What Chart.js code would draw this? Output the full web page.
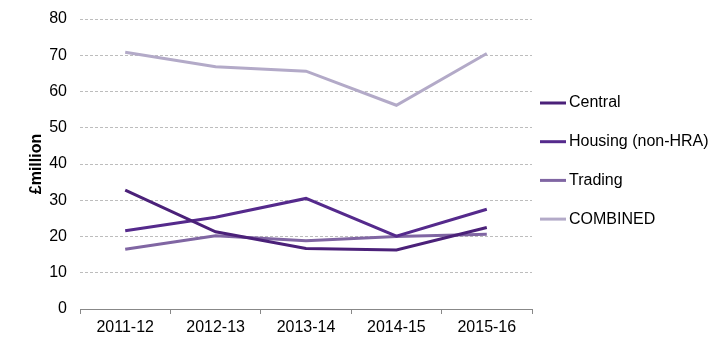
<!DOCTYPE html>
<html>
<head>
<meta charset="utf-8">
<script src="https://cdn.jsdelivr.net/npm/chart.js@4/dist/chart.umd.min.js"></script>
<style>
  html, body { margin: 0; padding: 0; background: #fff; }
  #wrap { width: 722px; height: 354px; }
</style>
</head>
<body>
<div id="wrap"><canvas id="chart"></canvas></div>
<script>
const years = ['2011-12', '2012-13', '2013-14', '2014-15', '2015-16'];
const central = [32.8, 21.3, 16.7, 16.3, 22.5];
const housing = [21.6, 25.3, 30.5, 20.1, 27.5];
const trading = [16.5, 20.2, 18.8, 20.0, 20.6];
const combined = [70.8, 66.8, 65.6, 56.2, 70.5];

const FONT = 'Liberation Sans, Arial, sans-serif';

// legend drawn by hand so it sits like the original
const sideLegend = {
  id: 'sideLegend',
  afterDraw(chart) {
    const ctx = chart.ctx;
    const area = chart.chartArea;
    ctx.save();
    ctx.font = '16px ' + FONT;
    ctx.textBaseline = 'middle';
    chart.data.datasets.forEach((ds, i) => {
      const y = area.top + 84 + i * 38.7;
      ctx.strokeStyle = ds.borderColor;
      ctx.lineWidth = 3;
      ctx.beginPath();
      ctx.moveTo(area.right + 8, y);
      ctx.lineTo(area.right + 34, y);
      ctx.stroke();
      ctx.fillStyle = '#000';
      ctx.fillText(ds.label, area.right + 37, y);
    });
    ctx.restore();
  }
};

new Chart(document.getElementById('chart'), {
  type: 'line',
  data: {
    labels: years,
    datasets: [
      { label: 'Central', data: central, borderColor: '#4b2179' },
      { label: 'Housing (non-HRA)', data: housing, borderColor: '#552a8c' },
      { label: 'Trading', data: trading, borderColor: '#8066a3' },
      { label: 'COMBINED', data: combined, borderColor: '#b3aac8' }
    ].map(d => Object.assign(d, { borderWidth: 3, pointRadius: 0, tension: 0, fill: false }))
  },
  options: {
    responsive: true,
    maintainAspectRatio: false,
    animation: false,
    layout: { padding: { top: 19, right: 190, bottom: 17, left: 0 } },
    plugins: { legend: { display: false }, tooltip: { enabled: false } },
    scales: {
      x: {
        offset: true,
        afterFit: s => { s.height = 28; s.paddingLeft = 0; s.paddingRight = 0; },
        grid: { offset: true, drawOnChartArea: false, drawTicks: true, tickLength: 5, color: '#888' },
        border: { display: true, color: '#888', width: 1 },
        ticks: { color: '#000', padding: 4, font: { family: FONT, size: 16 } }
      },
      y: {
        min: 0,
        max: 80,
        afterFit: s => { s.width = 80; s.paddingTop = 0; s.paddingBottom = 0; },
        ticks: { stepSize: 10, color: '#000', padding: 13, font: { family: FONT, size: 16 } },
        grid: {
          drawTicks: false,
          color: c => c.tick && c.tick.value === 0 ? 'rgba(0,0,0,0)' : '#bdbdbd',
          lineWidth: 1
        },
        border: { display: false, dash: [3, 2] },
        title: {
          display: true,
          text: '£million',
          color: '#000',
          padding: { top: 27, bottom: 3 },
          font: { family: FONT, size: 16, weight: 'bold' }
        }
      }
    }
  },
  plugins: [sideLegend]
});
</script>
</body>
</html>
